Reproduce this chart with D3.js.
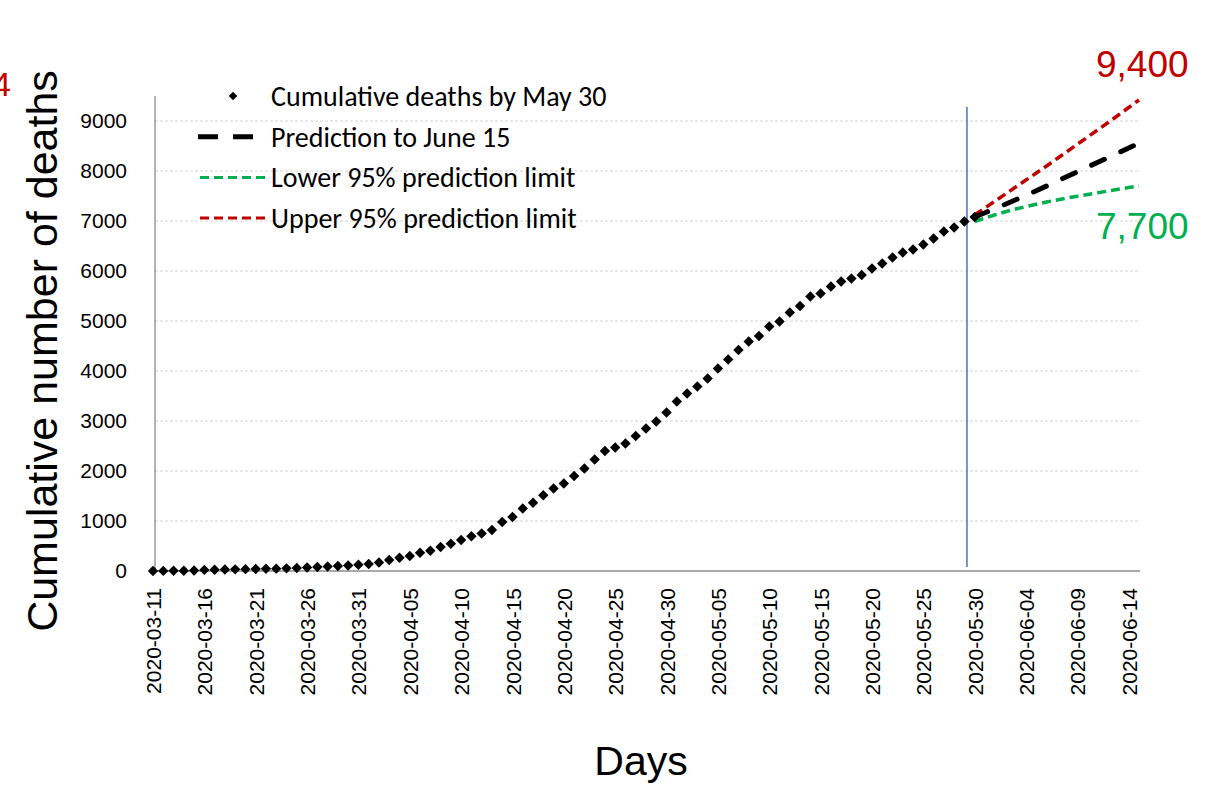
<!DOCTYPE html>
<html>
<head>
<meta charset="utf-8">
<script src="https://cdn.jsdelivr.net/npm/d3@7"></script>
<style>
  html, body { margin: 0; padding: 0; background: #fff; }
  svg { display: block; }
</style>
</head>
<body>
<svg id="chart" width="1217" height="787"></svg>
<script>
// Daily cumulative deaths, 2020-03-11 through 2020-05-30
const observedStart = "2020-03-11";
const observedDeaths = [
  1, 2, 4, 6, 9, 22, 26, 30, 33, 37,
  41, 44, 47, 53, 60, 70, 80, 90, 100, 110,
  125, 140, 170, 220, 265, 300, 365, 405, 480, 545,
  620, 695, 750, 820, 980, 1080, 1250, 1365, 1515, 1650,
  1750, 1900, 2050, 2230, 2400, 2470, 2550, 2700, 2850, 2990,
  3170, 3390, 3550, 3690, 3850, 4050, 4230, 4420, 4590, 4700,
  4890, 4990, 5170, 5300, 5490, 5550, 5690, 5790, 5850, 5920,
  6050, 6150, 6270, 6370, 6430, 6530, 6650, 6790, 6870, 6990,
  7080
];

// Forecast, 2020-05-30 through 2020-06-15
const forecastStart = "2020-05-30";
const predicted = [7080, 7165, 7250, 7335, 7425, 7515, 7605, 7700, 7795, 7890, 7985, 8080, 8175, 8270, 8365, 8460, 8555];
const lower95   = [6990, 7060, 7125, 7185, 7240, 7290, 7335, 7380, 7420, 7460, 7495, 7530, 7565, 7600, 7635, 7670, 7700];
const upper95   = [7120, 7260, 7400, 7540, 7680, 7820, 7960, 8100, 8245, 8390, 8535, 8680, 8825, 8970, 9120, 9270, 9420];

const xTickLabels = [
  "2020-03-11", "2020-03-16", "2020-03-21", "2020-03-26", "2020-03-31",
  "2020-04-05", "2020-04-10", "2020-04-15", "2020-04-20", "2020-04-25",
  "2020-04-30", "2020-05-05", "2020-05-10", "2020-05-15", "2020-05-20",
  "2020-05-25", "2020-05-30", "2020-06-04", "2020-06-09", "2020-06-14"
];
const yTickValues = [0, 1000, 2000, 3000, 4000, 5000, 6000, 7000, 8000, 9000];

const axisEnd = "2020-06-15";
const yMax = 9500;
const splitDate = "2020-05-29T06:00";   // data cut-off marker
const splitRange = [80, 9280];

const upperLabel = "9,400";
const lowerLabel = "7,700";

const legendItems = [
  { label: "Cumulative deaths by May 30", kind: "marker" },
  { label: "Prediction to June 15", kind: "pred" },
  { label: "Lower 95% prediction limit", kind: "lower" },
  { label: "Upper 95% prediction limit", kind: "upper" }
];

const RED = "#C00000", GREEN = "#00B050", BLUE = "#4472C4";
const SANS = "Liberation Sans, Arial, sans-serif";

const parse = d3.utcParse("%Y-%m-%d");
const parseT = d3.utcParse("%Y-%m-%dT%H:%M");
const fmt = d3.utcFormat("%Y-%m-%d");

const svg = d3.select("#chart");

const x = d3.scaleUtc()
  .domain([parse(observedStart), parse(axisEnd)])
  .range([153, 1139]);
const y = d3.scaleLinear().domain([0, yMax]).range([571, 96]);

const obs = observedDeaths.map((v, i) => ({ date: d3.utcDay.offset(parse(observedStart), i), v }));
const series = (arr) => arr.map((v, i) => ({ date: d3.utcDay.offset(parse(forecastStart), i), v }));

// gridlines
svg.append("g")
  .selectAll("line")
  .data(yTickValues.filter(d => d > 0))
  .join("line")
  .attr("x1", 155).attr("x2", x(parse(axisEnd)) + 1)
  .attr("y1", d => y(d)).attr("y2", d => y(d))
  .attr("stroke", "#d4d4d4")
  .attr("stroke-width", 1)
  .attr("stroke-dasharray", "3,2");

// y axis
const yAxis = d3.axisLeft(y).tickValues(yTickValues).tickSize(0).tickPadding(0).tickFormat(d3.format("d"));
const gy = svg.append("g").attr("transform", "translate(155,0)").call(yAxis);
gy.select(".domain").attr("d", `M0,${y(yMax)}V${y(0)}`).attr("stroke", "#8c8c8c").attr("stroke-width", 1.3);
gy.selectAll("text")
  .attr("x", -28)
  .attr("font-family", SANS)
  .attr("font-size", 21)
  .attr("fill", "#000");

// x axis
const xAxis = d3.axisBottom(x)
  .tickValues(xTickLabels.map(parse))
  .tickSize(0)
  .tickFormat(fmt);
const gx = svg.append("g").attr("transform", `translate(0,${y(0)})`).call(xAxis);
gx.select(".domain").attr("d", `M155,0H${x(parse(axisEnd)) + 1}`).attr("stroke", "#8c8c8c").attr("stroke-width", 1.5);
gx.selectAll("text")
  .attr("transform", "rotate(-90)")
  .attr("text-anchor", "end")
  .attr("x", -17)
  .attr("y", 0)
  .attr("dy", "0.36em")
  .attr("font-family", SANS)
  .attr("font-size", 21)
  .attr("fill", "#000");

// cut-off divider
svg.append("line")
  .attr("x1", x(parseT(splitDate))).attr("x2", x(parseT(splitDate)))
  .attr("y1", y(splitRange[1])).attr("y2", y(splitRange[0]))
  .attr("stroke", BLUE).attr("stroke-width", 1.5);

// forecast lines
const line = d3.line().x(d => x(d.date)).y(d => y(d.v));
svg.append("path").datum(series(upper95)).attr("d", line)
  .attr("fill", "none").attr("stroke", RED).attr("stroke-width", 3.5).attr("stroke-dasharray", "9,5");
svg.append("path").datum(series(lower95)).attr("d", line)
  .attr("fill", "none").attr("stroke", GREEN).attr("stroke-width", 3.5).attr("stroke-dasharray", "9,5");
svg.append("path").datum(series(predicted)).attr("d", line)
  .attr("fill", "none").attr("stroke", "#000").attr("stroke-width", 5)
  .attr("stroke-linecap", "round").attr("stroke-dasharray", "14,18");

// observed markers
const diamond = r => `M0,${-r}L${r},0L0,${r}L${-r},0Z`;
svg.append("g")
  .selectAll("path")
  .data(obs)
  .join("path")
  .attr("transform", d => `translate(${x(d.date)},${y(d.v)})`)
  .attr("d", diamond(5.2))
  .attr("fill", "#000");

// end-value labels
svg.append("text")
  .attr("x", 1096).attr("y", 77)
  .attr("font-family", SANS)
  .attr("font-size", 37).attr("fill", RED)
  .text(upperLabel);
svg.append("text")
  .attr("x", 1096).attr("y", 239)
  .attr("font-family", SANS)
  .attr("font-size", 37).attr("fill", GREEN)
  .text(lowerLabel);
svg.append("text")
  .attr("x", 11).attr("y", 96).attr("text-anchor", "end")
  .attr("font-family", SANS)
  .attr("font-size", 34).attr("fill", RED)
  .text("4");

// axis titles
svg.append("text")
  .attr("transform", "translate(57,351) rotate(-90)")
  .attr("text-anchor", "middle")
  .attr("font-family", SANS)
  .attr("font-size", 43).attr("fill", "#000")
  .text("Cumulative number of deaths");
svg.append("text")
  .attr("x", 641).attr("y", 775)
  .attr("text-anchor", "middle")
  .attr("font-family", SANS)
  .attr("font-size", 41).attr("fill", "#000")
  .text("Days");

// legend
const legend = svg.append("g");
const rows = legend.selectAll("g").data(legendItems).join("g")
  .attr("transform", (d, i) => `translate(0,${96 + i * 40.7})`);
rows.append("text")
  .attr("x", 271).attr("y", 0).attr("dy", "0.35em")
  .attr("font-family", "Carlito, Calibri, Lato, sans-serif")
  .attr("font-size", 28).attr("fill", "#000")
  .text(d => d.label);
rows.filter(d => d.kind === "marker").append("path")
  .attr("transform", "translate(233,0)").attr("d", diamond(4.3)).attr("fill", "#000");
rows.filter(d => d.kind === "pred").append("line")
  .attr("x1", 198).attr("x2", 254).attr("stroke", "#000").attr("stroke-width", 5)
  .attr("stroke-dasharray", "20,15");
rows.filter(d => d.kind === "lower" || d.kind === "upper").append("line")
  .attr("x1", 200).attr("x2", 267)
  .attr("stroke", d => d.kind === "lower" ? GREEN : RED)
  .attr("stroke-width", 3).attr("stroke-dasharray", "9,5");
</script>
</body>
</html>
